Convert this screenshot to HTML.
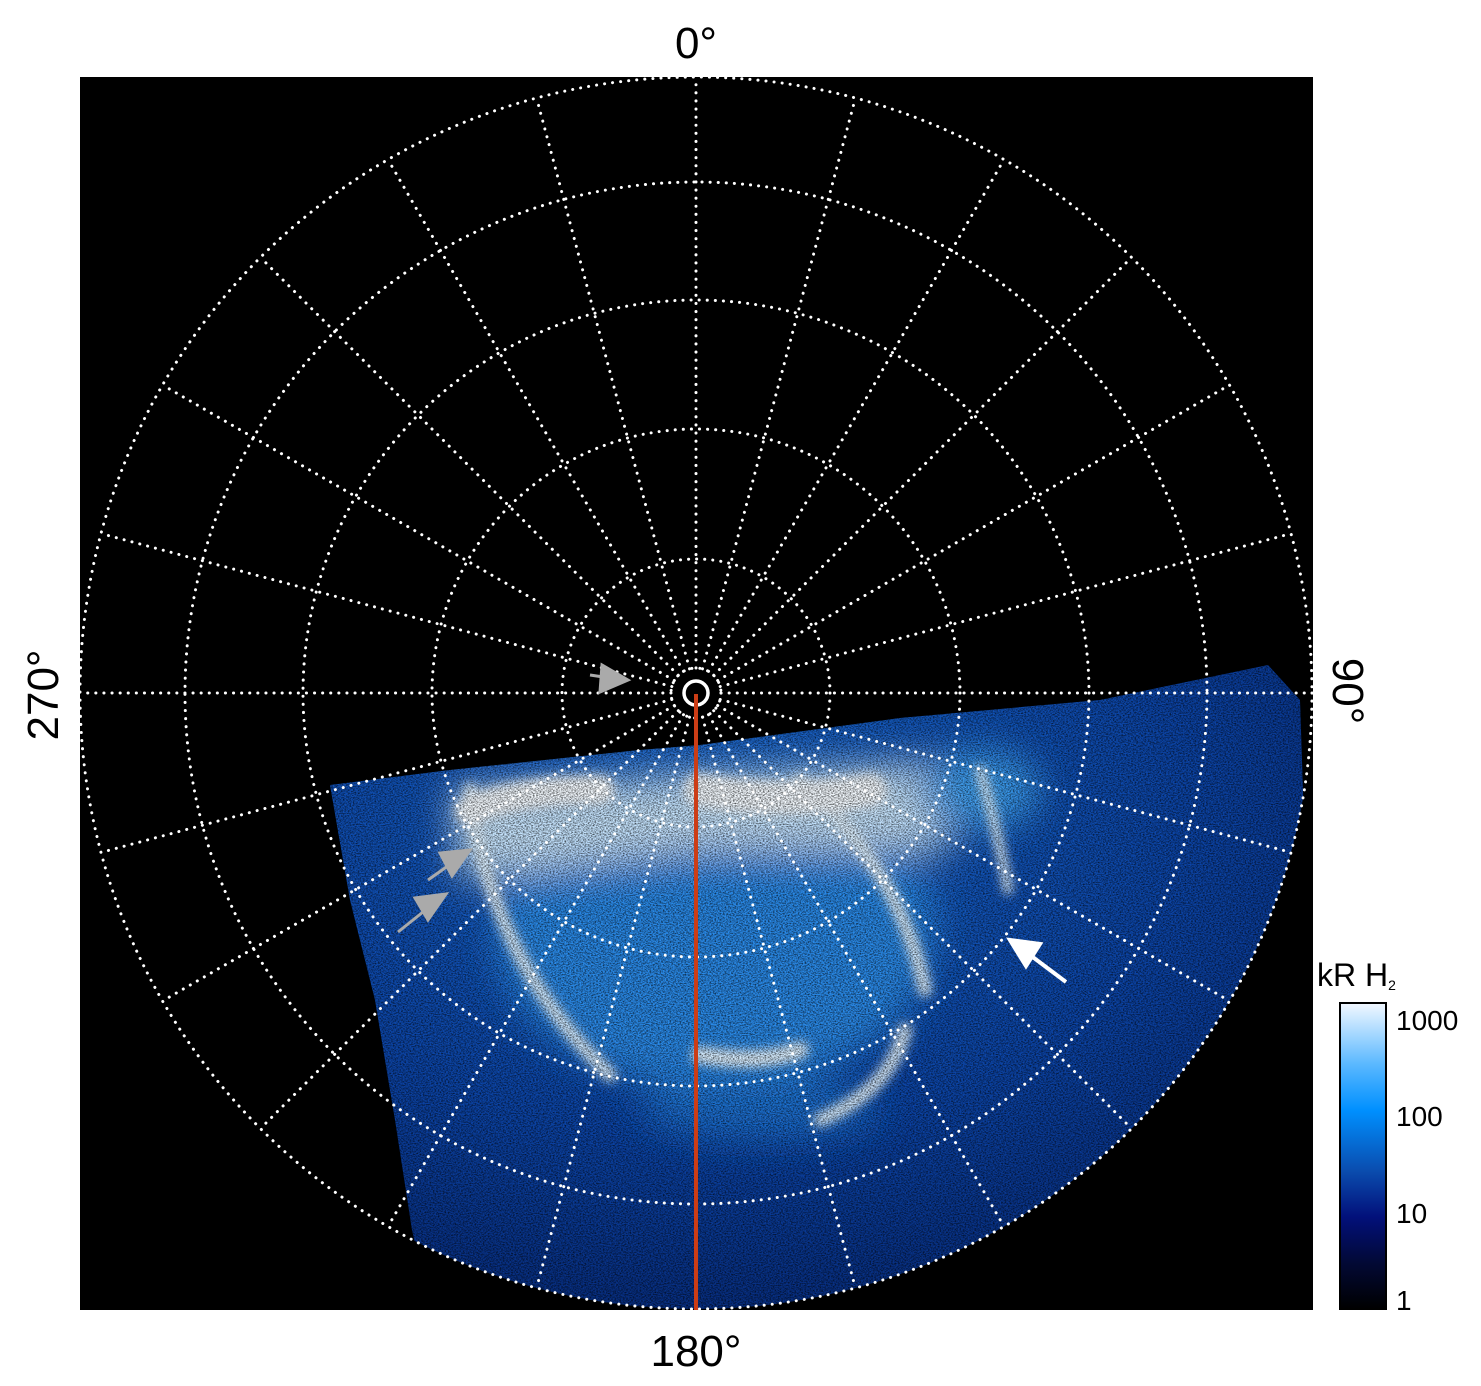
<!DOCTYPE html>
<html><head><style>
html,body{margin:0;padding:0;background:#fff;}
svg{display:block;font-family:"Liberation Sans",sans-serif;}
</style></head><body>
<svg width="1481" height="1386" viewBox="0 0 1481 1386" xmlns="http://www.w3.org/2000/svg">
<defs>
<clipPath id="disk"><circle cx="696" cy="693" r="616"/></clipPath>
<clipPath id="aur"><path d="M330,785 L450,770 L640,750 L700,745 L900,718 L1100,700 L1268,665 L1300,700 L1320,1310 L430,1310 L412,1230 L395,1120 L375,1000 L350,900 Z"/></clipPath>
<filter id="b20" x="-50%" y="-50%" width="200%" height="200%"><feGaussianBlur stdDeviation="18"/></filter>
<filter id="b6" x="-50%" y="-50%" width="200%" height="200%"><feGaussianBlur stdDeviation="5"/></filter>
<filter id="noise"><feTurbulence type="fractalNoise" baseFrequency="0.6 0.9" numOctaves="2" seed="3"/><feColorMatrix type="matrix" values="0 0 0 0 0  0 0 0 0 0  0 0 0 0 0  0 0 0 -2.2 1.4"/></filter>
<linearGradient id="cb" x1="0" y1="0" x2="0" y2="1">
<stop offset="0" stop-color="#f2f8ff"/><stop offset="0.2" stop-color="#5ab8ff"/><stop offset="0.35" stop-color="#0090ff"/>
<stop offset="0.55" stop-color="#0a4cae"/><stop offset="0.7" stop-color="#02107a"/><stop offset="0.85" stop-color="#020935"/><stop offset="1" stop-color="#000"/>
</linearGradient>
<radialGradient id="bg" cx="0.4" cy="0.25" r="0.85">
<stop offset="0" stop-color="#1a6ad0"/><stop offset="0.55" stop-color="#0c45a8"/><stop offset="1" stop-color="#052470"/>
</radialGradient>
</defs>
<rect x="80" y="77" width="1233" height="1233" fill="#000"/>
<g clip-path="url(#disk)">
<g clip-path="url(#aur)">
<rect x="300" y="650" width="1020" height="670" fill="url(#bg)"/>
<g filter="url(#b20)">
<ellipse cx="715" cy="930" rx="220" ry="160" fill="#2a8ae8"/>
<path d="M450,790 L950,760 L950,850 L700,850 L460,880 Z" fill="#c8e6ff"/>
<ellipse cx="980" cy="790" rx="60" ry="40" fill="#3c9ff0"/>
<ellipse cx="760" cy="1110" rx="120" ry="30" fill="#1e70d0"/>
</g>
<g filter="url(#b6)" fill="none" stroke="#e0f2ff" stroke-width="14" stroke-linecap="round">
<path d="M470,790 Q490,960 610,1075"/>
<path d="M800,780 Q900,870 925,990"/>
<path d="M905,1030 Q890,1090 820,1120"/>
<path d="M980,770 Q1000,840 1008,890" stroke-width="10"/>
<path d="M700,1055 Q760,1065 800,1050" stroke-width="18"/>
<path d="M700,790 Q780,805 870,790" stroke-width="34" stroke="#f4faff"/>
<path d="M470,810 Q520,790 600,790" stroke-width="30" stroke="#f4faff"/>
</g>
<rect x="300" y="650" width="1020" height="670" filter="url(#noise)" opacity="0.7"/>
</g>
</g>
<g fill="none" stroke="#fff" stroke-width="3" stroke-dasharray="0.1 8" stroke-linecap="round">
<circle cx="696" cy="693" r="616"/>
<circle cx="696" cy="693" r="511"/>
<circle cx="696" cy="693" r="393"/>
<circle cx="696" cy="693" r="264"/>
<circle cx="696" cy="693" r="134"/>
<circle cx="696" cy="693" r="25"/>
<g id="rad">
<line x1="696" y1="668" x2="696" y2="77"/>
<line x1="696" y1="668" x2="696" y2="77" transform="rotate(15 696 693)"/>
<line x1="696" y1="668" x2="696" y2="77" transform="rotate(30 696 693)"/>
<line x1="696" y1="668" x2="696" y2="77" transform="rotate(45 696 693)"/>
<line x1="696" y1="668" x2="696" y2="77" transform="rotate(60 696 693)"/>
<line x1="696" y1="668" x2="696" y2="77" transform="rotate(75 696 693)"/>
<line x1="696" y1="668" x2="696" y2="77" transform="rotate(90 696 693)"/>
<line x1="696" y1="668" x2="696" y2="77" transform="rotate(105 696 693)"/>
<line x1="696" y1="668" x2="696" y2="77" transform="rotate(120 696 693)"/>
<line x1="696" y1="668" x2="696" y2="77" transform="rotate(135 696 693)"/>
<line x1="696" y1="668" x2="696" y2="77" transform="rotate(150 696 693)"/>
<line x1="696" y1="668" x2="696" y2="77" transform="rotate(165 696 693)"/>
</g>
<use href="#rad" transform="rotate(180 696 693)"/>
</g>
<circle cx="696" cy="693" r="12" fill="none" stroke="#fff" stroke-width="3.5"/>
<line x1="696" y1="694" x2="696" y2="1310" stroke="#cc3d16" stroke-width="4"/>
<g stroke="#aaa" stroke-width="3" fill="#aaa">
<line x1="590" y1="675" x2="610" y2="678"/><polygon points="628,680 602,665 600,692"/>
<line x1="428" y1="880" x2="452" y2="863"/><polygon points="470,850 440,853 452,876"/>
<line x1="398" y1="932" x2="428" y2="908"/><polygon points="446,894 415,898 428,920"/>
</g>
<g stroke="#fff" stroke-width="4" fill="#fff">
<line x1="1066" y1="982" x2="1030" y2="955"/><polygon points="1010,940 1040,944 1026,966"/>
</g>
<g font-size="44" fill="#000" text-anchor="middle">
<text x="696" y="58">0°</text>
<text x="696" y="1366">180°</text>
<text transform="translate(58,695) rotate(-90)">270°</text>
<text transform="translate(1333,691) rotate(90)">90°</text>
</g>
<text x="1317" y="986" font-size="32" fill="#000">kR H<tspan font-size="14" dy="4">2</tspan></text>
<rect x="1340" y="1003" width="46" height="306" fill="url(#cb)" stroke="#000" stroke-width="2"/>
<g font-size="28" fill="#000">
<text x="1396" y="1030">1000</text>
<text x="1396" y="1126">100</text>
<text x="1396" y="1223">10</text>
<text x="1396" y="1310">1</text>
</g>
</svg>
</body></html>
